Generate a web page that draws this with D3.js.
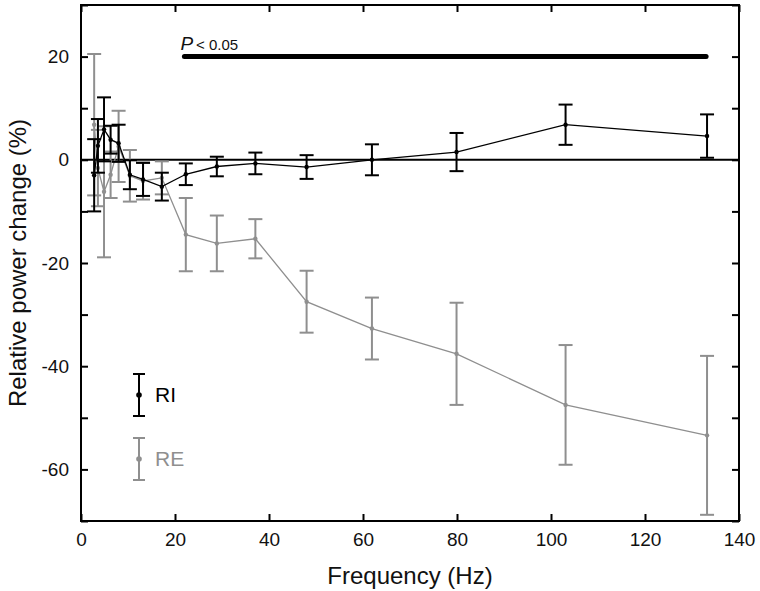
<!DOCTYPE html>
<html>
<head>
<meta charset="utf-8">
<script src="https://cdn.jsdelivr.net/npm/d3@7"></script>
<style>
    body { margin: 0; background: #fff; }
    svg { display: block; font-family: "Liberation Sans", Arial, sans-serif; }
</style>
</head>
<body>
<script>
// frequencies (Hz) and relative power change (%), mean and error
const freqs = [2.8, 3.6, 4.9, 6.3, 8.0, 10.4, 13.2, 17.2, 22.3, 28.9, 37.1, 48.0, 61.9, 79.9, 103.1, 133.2];
const riMean = [-3.0, 2.7, 5.9, 3.9, 3.2, -2.9, -3.8, -5.2, -2.8, -1.3, -0.7, -1.4, 0.0, 1.5, 6.8, 4.6];
const riErr = [7.0, 5.2, 6.2, 2.7, 3.6, 2.8, 3.2, 2.7, 2.1, 1.9, 2.1, 2.3, 3.0, 3.7, 3.9, 4.2];
const reMean = [6.8, -1.6, -6.2, -2.9, 2.6, -3.1, -4.1, -3.5, -14.5, -16.2, -15.3, -27.5, -32.7, -37.6, -47.5, -53.4];
const reErr = [13.7, 7.4, 12.7, 4.5, 6.9, 5.0, 3.6, 3.2, 7.1, 5.4, 3.8, 6.0, 6.0, 9.9, 11.6, 15.4];

const xTicks = [0, 20, 40, 60, 80, 100, 120, 140];
const yTicks = [20, 0, -20, -40, -60];
const yMinorTicks = [30, 20, 10, 0, -10, -20, -30, -40, -50, -60, -70];
const sigRange = [22, 133];
const sigLevel = 20;

const W = 760, H = 591;
const margin = { top: 5, right: 21, bottom: 70, left: 81 };
const iw = W - margin.left - margin.right;
const ih = H - margin.top - margin.bottom;

const black = "#000";
const grey = "#8f8f8f";

const svg = d3.select("body").append("svg")
    .attr("width", W)
    .attr("height", H);

const g = svg.append("g")
    .attr("transform", `translate(${margin.left},${margin.top})`);

const x = d3.scaleLinear().domain([0, 140]).range([0, iw]);
const y = d3.scaleLinear().domain([-70, 30]).range([ih, 0]);

// inward ticks on all four sides
const tickLen = 7;
g.append("g")
    .attr("transform", `translate(0,${ih})`)
    .call(d3.axisBottom(x).tickValues(xTicks).tickSizeInner(-tickLen).tickSizeOuter(0).tickPadding(12))
    .call(a => a.select(".domain").remove())
    .call(a => a.selectAll("text").attr("font-size", 19).attr("fill", "#111"))
    .call(a => a.selectAll("line").attr("stroke-width", 2));

g.append("g")
    .call(d3.axisTop(x).tickValues(xTicks).tickSizeInner(-tickLen).tickSizeOuter(0).tickFormat(""))
    .call(a => a.select(".domain").remove())
    .call(a => a.selectAll("line").attr("stroke-width", 2));

g.append("g")
    .call(d3.axisLeft(y).tickValues(yMinorTicks).tickSizeInner(-tickLen).tickSizeOuter(0)
        .tickPadding(12).tickFormat(d => yTicks.includes(d) ? d : ""))
    .call(a => a.select(".domain").remove())
    .call(a => a.selectAll("text").attr("font-size", 19).attr("fill", "#111"))
    .call(a => a.selectAll("line").attr("stroke-width", 2));

g.append("g")
    .attr("transform", `translate(${iw},0)`)
    .call(d3.axisRight(y).tickValues(yMinorTicks).tickSizeInner(-tickLen).tickSizeOuter(0).tickFormat(""))
    .call(a => a.select(".domain").remove())
    .call(a => a.selectAll("line").attr("stroke-width", 2));

// frame
g.append("rect")
    .attr("width", iw)
    .attr("height", ih)
    .attr("fill", "none")
    .attr("stroke", black)
    .attr("stroke-width", 2);

// zero line
g.append("line")
    .attr("x1", 0).attr("x2", iw)
    .attr("y1", y(0)).attr("y2", y(0))
    .attr("stroke", black)
    .attr("stroke-width", 2);

// significance bar
g.append("line")
    .attr("x1", x(sigRange[0])).attr("x2", x(sigRange[1]))
    .attr("y1", y(sigLevel)).attr("y2", y(sigLevel))
    .attr("stroke", black)
    .attr("stroke-width", 5)
    .attr("stroke-linecap", "round");

const sig = g.append("text")
    .attr("x", x(sigRange[0]) - 4)
    .attr("y", y(sigLevel) - 7)
    .attr("fill", "#111");
sig.append("tspan").attr("font-style", "italic").attr("font-size", 19).text("P");
sig.append("tspan").attr("font-size", 15).attr("dx", 3).text("< 0.05");

function drawSeries(means, errs, color, w) {
    const pts = freqs.map((f, i) => ({ f: f, m: means[i], e: errs[i] }));
    const s = g.append("g");
    const cap = 7;

    s.append("path")
        .datum(pts)
        .attr("d", d3.line(d => x(d.f), d => y(d.m)))
        .attr("fill", "none")
        .attr("stroke", color)
        .attr("stroke-width", 1.3);

    const bars = s.selectAll("g.err")
        .data(pts)
        .join("g")
        .attr("class", "err")
        .attr("stroke", color)
        .attr("stroke-width", w);
    bars.append("line")
        .attr("x1", d => x(d.f)).attr("x2", d => x(d.f))
        .attr("y1", d => y(d.m + d.e)).attr("y2", d => y(d.m - d.e));
    bars.append("line")
        .attr("x1", d => x(d.f) - cap).attr("x2", d => x(d.f) + cap)
        .attr("y1", d => y(d.m + d.e)).attr("y2", d => y(d.m + d.e));
    bars.append("line")
        .attr("x1", d => x(d.f) - cap).attr("x2", d => x(d.f) + cap)
        .attr("y1", d => y(d.m - d.e)).attr("y2", d => y(d.m - d.e));

    s.selectAll("circle")
        .data(pts)
        .join("circle")
        .attr("cx", d => x(d.f))
        .attr("cy", d => y(d.m))
        .attr("r", 2.2)
        .attr("fill", color);
}

drawSeries(reMean, reErr, grey, 2);
drawSeries(riMean, riErr, black, 2);

// legend
const legend = [
    { name: "RI", color: black, cy: 395 },
    { name: "RE", color: grey, cy: 459 }
];
const lg = svg.append("g");
legend.forEach(l => {
    const lx = 139;
    lg.append("line").attr("x1", lx).attr("x2", lx).attr("y1", l.cy - 21).attr("y2", l.cy + 21)
        .attr("stroke", l.color).attr("stroke-width", 2);
    lg.append("line").attr("x1", lx - 6).attr("x2", lx + 6).attr("y1", l.cy - 21).attr("y2", l.cy - 21)
        .attr("stroke", l.color).attr("stroke-width", 2);
    lg.append("line").attr("x1", lx - 6).attr("x2", lx + 6).attr("y1", l.cy + 21).attr("y2", l.cy + 21)
        .attr("stroke", l.color).attr("stroke-width", 2);
    lg.append("circle").attr("cx", lx).attr("cy", l.cy).attr("r", 2.8).attr("fill", l.color);
    lg.append("text").attr("x", 155).attr("y", l.cy + 7).attr("font-size", 21)
        .attr("fill", l.color).text(l.name);
});

// axis titles
svg.append("text")
    .attr("x", margin.left + iw / 2)
    .attr("y", 584)
    .attr("text-anchor", "middle")
    .attr("font-size", 24)
    .attr("fill", "#111")
    .text("Frequency (Hz)");

svg.append("text")
    .attr("transform", `translate(26,${margin.top + ih / 2}) rotate(-90)`)
    .attr("text-anchor", "middle")
    .attr("font-size", 24)
    .attr("fill", "#111")
    .text("Relative power change (%)");
</script>
</body>
</html>
